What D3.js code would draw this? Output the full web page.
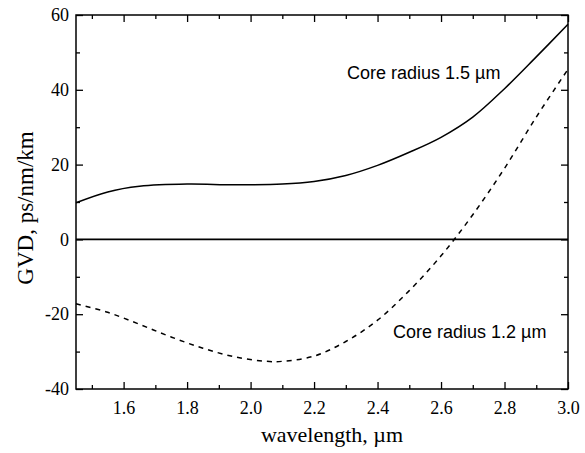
<!DOCTYPE html>
<html><head><meta charset="utf-8">
<script src="https://cdn.jsdelivr.net/npm/d3@7"></script>
<style>body{margin:0;background:#fff}</style>
</head><body>
<svg id="c" width="585" height="453"></svg>
<script>
const wavelength15 = [1.45,1.55,1.65,1.8,1.95,2.1,2.2,2.3,2.4,2.5,2.6,2.7,2.8,2.9,3.0];
const gvd15 = [9.8,12.7,14.2,14.8,14.6,14.8,15.5,17.1,19.8,23.3,27.3,32.7,40.3,48.8,57.5];
const wavelength12 = [1.45,1.55,1.65,1.75,1.85,1.95,2.05,2.1,2.2,2.3,2.4,2.5,2.6,2.7,2.8,2.9,3.0];
const gvd12 = [-17.2,-19.5,-22.7,-26.1,-29.1,-31.4,-32.6,-32.6,-31.2,-27.3,-21.6,-13.7,-4.4,6.6,19.0,32.7,45.5];
const xTicks = [1.6,1.8,2.0,2.2,2.4,2.6,2.8,3.0];
const xMinor = [1.5,1.7,1.9,2.1,2.3,2.5,2.7,2.9];
const yTicks = [-40,-20,0,20,40,60];
const yMinor = [-30,-10,10,30,50];
const labels = ["Core radius 1.5 µm","Core radius 1.2 µm"];

const svg = d3.select("#c");
const L=76,R=568,T=15,B=389;
const x = d3.scaleLinear().domain([1.45,3.0]).range([L,R]);
const y = d3.scaleLinear().domain([-40,60]).range([B,T]);
const serif = "'Liberation Serif','Times New Roman',serif";
const sans = "'Liberation Sans',Arial,sans-serif";

function mk(axis, tr, vals, len, fmt){
  const g = svg.append("g").attr("transform",tr)
   .call(axis.tickValues(vals).tickSizeInner(len).tickSizeOuter(0).tickPadding(6).tickFormat(fmt));
  g.select(".domain").remove();
  g.selectAll(".tick line").attr("stroke","#000").attr("stroke-width",1.3);
  return g;
}
const none = ()=>"";
// bottom
const gb = mk(d3.axisBottom(x), `translate(0,${B})`, xTicks, -7, d=>d.toFixed(1));
gb.selectAll("text").attr("font-family",serif).attr("font-size",18).attr("fill","#000").attr("dy","0").attr("y",25);
mk(d3.axisBottom(x), `translate(0,${B})`, xMinor, -4, none);
// top
mk(d3.axisTop(x), `translate(0,${T})`, xTicks, -7, none);
mk(d3.axisTop(x), `translate(0,${T})`, xMinor, -4, none);
// left
const gl = mk(d3.axisLeft(y), `translate(${L},0)`, yTicks, -7, d=>String(d));
gl.selectAll("text").attr("font-family",serif).attr("font-size",18).attr("fill","#000").attr("x",-7);
mk(d3.axisLeft(y), `translate(${L},0)`, yMinor, -4, none);
// right
mk(d3.axisRight(y), `translate(${R},0)`, yTicks, -7, none);
mk(d3.axisRight(y), `translate(${R},0)`, yMinor, -4, none);

// zero line
svg.append("line").attr("x1",L).attr("x2",R).attr("y1",y(0)).attr("y2",y(0))
  .attr("stroke","#000").attr("stroke-width",1.6);

const line = d3.line().x(d=>x(d[0])).y(d=>y(d[1])).curve(d3.curveCatmullRom.alpha(0.5));
svg.append("path").datum(wavelength15.map((w,i)=>[w,gvd15[i]]))
  .attr("d",line).attr("fill","none").attr("stroke","#000").attr("stroke-width",1.5);
svg.append("path").datum(wavelength12.map((w,i)=>[w,gvd12[i]]))
  .attr("d",line).attr("fill","none").attr("stroke","#000").attr("stroke-width",1.5)
  .attr("stroke-dasharray","5,5");

// frame
svg.append("rect").attr("x",L).attr("y",T).attr("width",R-L).attr("height",B-T)
  .attr("fill","none").attr("stroke","#000").attr("stroke-width",1.5);

// annotations
svg.append("text").attr("x",347).attr("y",79).attr("font-family",sans).attr("font-size",18).text(labels[0]);
svg.append("text").attr("x",393).attr("y",338).attr("font-family",sans).attr("font-size",18).text(labels[1]);

// axis titles
svg.append("text").attr("x",(L+R)/2+10).attr("y",442).attr("text-anchor","middle")
  .attr("font-family",serif).attr("font-size",22).text("wavelength, µm");
svg.append("text").attr("transform",`translate(33,208) rotate(-90)`).attr("text-anchor","middle")
  .attr("font-family",serif).attr("font-size",23).text("GVD, ps/nm/km");
</script>
</body></html>
